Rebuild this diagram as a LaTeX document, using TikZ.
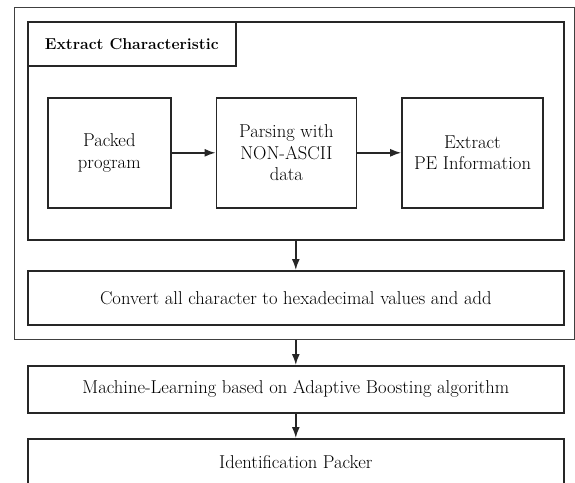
\documentclass[tikz,border=0pt]{standalone}
\usetikzlibrary{positioning, arrows.meta}

\begin{document}
\begin{tikzpicture}[
    x=1pt, y=-1pt,
    font=\fontsize{18.6}{21.7}\selectfont,
    every node/.style={draw=black!85, line width=1.6pt, rectangle, inner sep=0pt, anchor=north west, align=center},
    frame/.style={draw=black!85},
    outerframe/.style={draw=black!75, line width=1.3pt},
    stage/.style={minimum width=123pt, minimum height=110pt},
    wide/.style={minimum width=536pt, minimum height=47pt},
    arrow/.style={-{Latex[length=11pt, width=8pt]}, line width=1.6pt, draw=black!85}
]
\useasboundingbox (0,0) rectangle (575,482);
\clip (0,0) rectangle (575,482);

% containers
\node[outerframe, minimum width=560pt, minimum height=332pt] (outer) at (14,7) {};
\node[frame, minimum width=536pt, minimum height=218pt] (group) at (27,21) {};
\node[minimum width=208pt, minimum height=44pt, font=\fontsize{15.8}{19}\selectfont\bfseries] (title) at (27,21) {Extract Characteristic};

% extraction steps
\node[stage] (packed) at (47,97) {Packed\\program};
\node[stage, minimum width=140pt, right=44pt of packed] (parsing) {Parsing with\\NON-ASCII\\data};
\node[stage, minimum width=141pt, right=44pt of parsing] (pe) {Extract\\PE Information};

\node[wide, minimum height=54pt] (convert) at (27,270) {Convert all character to hexadecimal values and add};
\node[wide] (ml) at (27,365) {Machine-Learning based on Adaptive Boosting algorithm};
\node[wide] (ident) at (27,438) {Identification Packer};

\draw[arrow] (packed) -- (parsing);
\draw[arrow] (parsing) -- (pe);
\draw[arrow] (group) -- (convert);
\draw[arrow] (outer.south -| ml) -- (ml);
\draw[arrow] (ml) -- (ident);
\end{tikzpicture}
\end{document}
